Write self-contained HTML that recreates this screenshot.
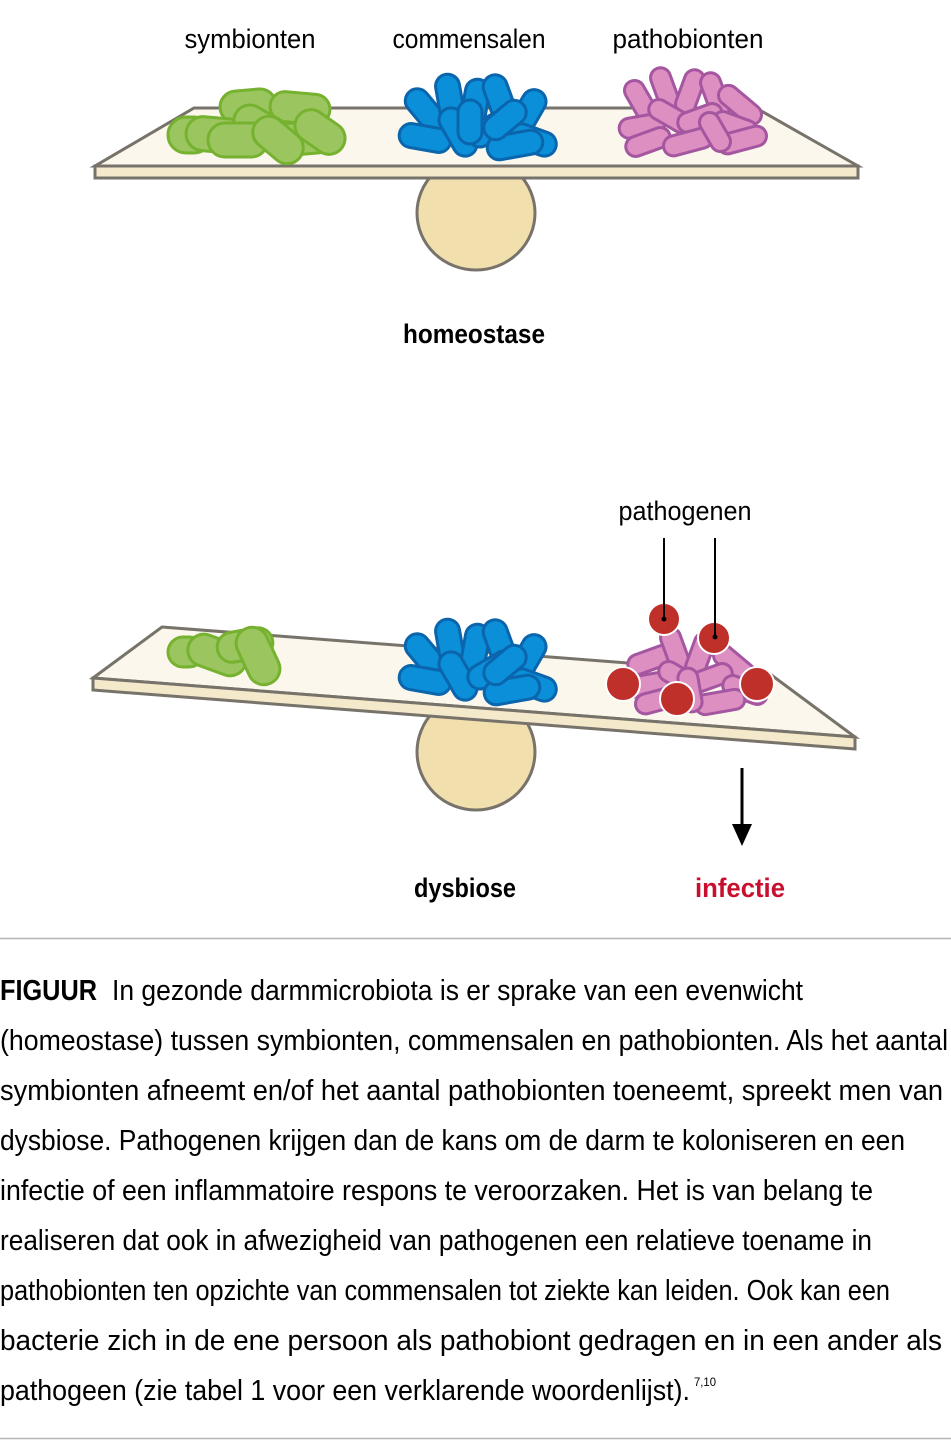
<!DOCTYPE html>
<html><head><meta charset="utf-8"><style>
html,body{margin:0;padding:0;background:#fff;}
svg{display:block;}
text{font-family:"Liberation Sans",sans-serif;}
</style></head><body>
<svg width="951" height="1450" viewBox="0 0 951 1450" xmlns="http://www.w3.org/2000/svg">
<!-- TOP SCALE -->
<ellipse cx="476" cy="213" rx="59" ry="57" fill="#f2dfae" stroke="#77736b" stroke-width="3"/>
<polygon points="194,108 756,108 858,166 95,166" fill="#fbf7ec" stroke="#77736b" stroke-width="3"/>
<rect x="95" y="166" width="763" height="12" fill="#f5e9cc" stroke="#77736b" stroke-width="3"/>

<g fill="#9bc65f" stroke="#76b130" stroke-width="3">
<rect x="-22" y="-18" width="44" height="36" rx="18" transform="translate(190 135)"/>
<rect x="-28" y="-16" width="56" height="32" rx="16" transform="translate(248 106) rotate(-5)"/>
<rect x="-30" y="-15" width="60" height="30" rx="15" transform="translate(300 108) rotate(5)"/>
<rect x="-32" y="-17" width="64" height="34" rx="17" transform="translate(218 135) rotate(5)"/>
<rect x="-30" y="-16" width="60" height="32" rx="16" transform="translate(262 128) rotate(30)"/>
<rect x="-30" y="-16" width="60" height="32" rx="16" transform="translate(305 138) rotate(-5)"/>
<rect x="-27" y="-16" width="54" height="32" rx="16" transform="translate(320 132) rotate(35)"/>
<rect x="-30" y="-17" width="60" height="34" rx="17" transform="translate(238 140)"/>
<rect x="-28" y="-16" width="56" height="32" rx="16" transform="translate(278 140) rotate(40)"/>
</g>
<g fill="#0a8fd8" stroke="#0b65ad" stroke-width="3">
<rect x="-24" y="-12" width="48" height="24" rx="12" transform="translate(425 110) rotate(50)"/>
<rect x="-26" y="-12" width="52" height="24" rx="12" transform="translate(450 100) rotate(80)"/>
<rect x="-26" y="-12" width="52" height="24" rx="12" transform="translate(475 105) rotate(100)"/>
<rect x="-26" y="-12" width="52" height="24" rx="12" transform="translate(500 100) rotate(70)"/>
<rect x="-24" y="-12" width="48" height="24" rx="12" transform="translate(528 112) rotate(120)"/>
<rect x="-26" y="-12" width="52" height="24" rx="12" transform="translate(425 138) rotate(10)"/>
<rect x="-26" y="-12" width="52" height="24" rx="12" transform="translate(458 132) rotate(60)"/>
<rect x="-26" y="-12" width="52" height="24" rx="12" transform="translate(492 128) rotate(-30)"/>
<rect x="-24" y="-12" width="48" height="24" rx="12" transform="translate(533 140) rotate(20)"/>
<rect x="-28" y="-12" width="56" height="24" rx="12" transform="translate(515 145) rotate(-10)"/>
<rect x="-22" y="-12" width="44" height="24" rx="12" transform="translate(470 122) rotate(90)"/>
<rect x="-24" y="-12" width="48" height="24" rx="12" transform="translate(505 120) rotate(140)"/>
</g>
<g fill="#dc8fc0" stroke="#a456a0" stroke-width="3">
<rect x="-21" y="-10" width="42" height="20" rx="10" transform="translate(640 100) rotate(60)"/>
<rect x="-23" y="-10" width="46" height="20" rx="10" transform="translate(665 90) rotate(70)"/>
<rect x="-23" y="-10" width="46" height="20" rx="10" transform="translate(690 92) rotate(110)"/>
<rect x="-23" y="-10" width="46" height="20" rx="10" transform="translate(715 95) rotate(70)"/>
<rect x="-25" y="-10" width="50" height="20" rx="10" transform="translate(740 105) rotate(40)"/>
<rect x="-23" y="-10" width="46" height="20" rx="10" transform="translate(642 126) rotate(-10)"/>
<rect x="-23" y="-10" width="46" height="20" rx="10" transform="translate(670 116) rotate(30)"/>
<rect x="-23" y="-10" width="46" height="20" rx="10" transform="translate(700 118) rotate(-20)"/>
<rect x="-23" y="-10" width="46" height="20" rx="10" transform="translate(735 126) rotate(20)"/>
<rect x="-23" y="-10" width="46" height="20" rx="10" transform="translate(648 142) rotate(-20)"/>
<rect x="-25" y="-10" width="50" height="20" rx="10" transform="translate(688 142) rotate(-15)"/>
<rect x="-25" y="-10" width="50" height="20" rx="10" transform="translate(742 140) rotate(-15)"/>
<rect x="-21" y="-10" width="42" height="20" rx="10" transform="translate(715 132) rotate(60)"/>
</g>

<text x="250" y="48" font-size="27" text-anchor="middle" textLength="131" lengthAdjust="spacingAndGlyphs">symbionten</text>
<text x="469" y="48" font-size="27" text-anchor="middle" textLength="153" lengthAdjust="spacingAndGlyphs">commensalen</text>
<text x="688" y="48" font-size="27" text-anchor="middle" textLength="151" lengthAdjust="spacingAndGlyphs">pathobionten</text>
<text x="474" y="343" font-size="27" font-weight="bold" text-anchor="middle" textLength="142" lengthAdjust="spacingAndGlyphs">homeostase</text>

<!-- BOTTOM SCALE -->
<ellipse cx="476" cy="752" rx="59" ry="58" fill="#f2dfae" stroke="#77736b" stroke-width="3"/>
<polygon points="162,627 770,674 855,737 93,678" fill="#fbf7ec" stroke="#77736b" stroke-width="3"/>
<polygon points="93,678 855,737 855,749 93,690" fill="#f5e9cc" stroke="#77736b" stroke-width="3"/>

<g fill="#9bc65f" stroke="#76b130" stroke-width="3">
<rect x="-18" y="-15" width="36" height="30" rx="15" transform="translate(186 652)"/>
<rect x="-30" y="-16" width="60" height="32" rx="16" transform="translate(217 655) rotate(20)"/>
<rect x="-28" y="-15" width="56" height="30" rx="15" transform="translate(245 645) rotate(-10)"/>
<rect x="-30" y="-16" width="60" height="32" rx="16" transform="translate(258 656) rotate(65)"/>
</g>
<g fill="#0a8fd8" stroke="#0b65ad" stroke-width="3">
<rect x="-24" y="-12" width="48" height="24" rx="12" transform="translate(425 655) rotate(50)"/>
<rect x="-26" y="-12" width="52" height="24" rx="12" transform="translate(450 645) rotate(80)"/>
<rect x="-26" y="-12" width="52" height="24" rx="12" transform="translate(475 650) rotate(100)"/>
<rect x="-26" y="-12" width="52" height="24" rx="12" transform="translate(500 645) rotate(70)"/>
<rect x="-24" y="-12" width="48" height="24" rx="12" transform="translate(528 657) rotate(120)"/>
<rect x="-26" y="-12" width="52" height="24" rx="12" transform="translate(425 680) rotate(10)"/>
<rect x="-26" y="-12" width="52" height="24" rx="12" transform="translate(458 676) rotate(60)"/>
<rect x="-26" y="-12" width="52" height="24" rx="12" transform="translate(492 670) rotate(-30)"/>
<rect x="-24" y="-12" width="48" height="24" rx="12" transform="translate(533 685) rotate(20)"/>
<rect x="-28" y="-12" width="56" height="24" rx="12" transform="translate(512 690) rotate(-10)"/>
<rect x="-24" y="-12" width="48" height="24" rx="12" transform="translate(505 665) rotate(140)"/>
</g>
<g fill="#dc8fc0" stroke="#a456a0" stroke-width="3">
<rect x="-23" y="-10" width="46" height="20" rx="10" transform="translate(650 660) rotate(-20)"/>
<rect x="-23" y="-10" width="46" height="20" rx="10" transform="translate(675 650) rotate(70)"/>
<rect x="-23" y="-10" width="46" height="20" rx="10" transform="translate(700 655) rotate(110)"/>
<rect x="-25" y="-10" width="50" height="20" rx="10" transform="translate(735 665) rotate(40)"/>
<rect x="-23" y="-10" width="46" height="20" rx="10" transform="translate(645 685) rotate(-10)"/>
<rect x="-23" y="-10" width="46" height="20" rx="10" transform="translate(680 678) rotate(30)"/>
<rect x="-23" y="-10" width="46" height="20" rx="10" transform="translate(710 678) rotate(-20)"/>
<rect x="-23" y="-10" width="46" height="20" rx="10" transform="translate(745 690) rotate(20)"/>
<rect x="-25" y="-10" width="50" height="20" rx="10" transform="translate(660 700) rotate(-15)"/>
<rect x="-25" y="-10" width="50" height="20" rx="10" transform="translate(720 702) rotate(-10)"/>
<rect x="-22" y="-10" width="44" height="20" rx="10" transform="translate(690 690) rotate(80)"/>
</g>
<g fill="#c0302a" stroke="#fff" stroke-width="2">
<circle cx="664" cy="619" r="16"/>
<circle cx="714" cy="638" r="16"/>
<circle cx="623" cy="684" r="17"/>
<circle cx="677" cy="699" r="17"/>
<circle cx="757" cy="684" r="17"/>
</g>
<line x1="664" y1="538" x2="664" y2="619" stroke="#000" stroke-width="2"/>
<line x1="715" y1="538" x2="715" y2="637" stroke="#000" stroke-width="2"/>
<circle cx="664" cy="619" r="2.5" fill="#000"/>
<circle cx="715" cy="637" r="2.5" fill="#000"/>
<line x1="742" y1="768" x2="742" y2="830" stroke="#000" stroke-width="3"/>
<polygon points="732,824 752,824 742,846" fill="#000"/>

<text x="685" y="520" font-size="27" text-anchor="middle" textLength="133" lengthAdjust="spacingAndGlyphs">pathogenen</text>
<text x="465" y="897" font-size="27" font-weight="bold" text-anchor="middle" textLength="102" lengthAdjust="spacingAndGlyphs">dysbiose</text>
<text x="740" y="897" font-size="27" font-weight="bold" fill="#c8102e" text-anchor="middle" textLength="90" lengthAdjust="spacingAndGlyphs">infectie</text>

<line x1="0" y1="938.5" x2="951" y2="938.5" stroke="#b5b5b5" stroke-width="1.5"/>
<line x1="0" y1="1438.5" x2="951" y2="1438.5" stroke="#b5b5b5" stroke-width="1.5"/>

<g font-size="29">
<text x="0" y="1000" font-weight="bold" textLength="97" lengthAdjust="spacingAndGlyphs">FIGUUR</text>
<text x="112" y="1000" textLength="691" lengthAdjust="spacingAndGlyphs">In gezonde darmmicrobiota is er sprake van een evenwicht</text>
<text x="0" y="1050" textLength="948" lengthAdjust="spacingAndGlyphs">(homeostase) tussen symbionten, commensalen en pathobionten. Als het aantal</text>
<text x="0" y="1100" textLength="943" lengthAdjust="spacingAndGlyphs">symbionten afneemt en/of het aantal pathobionten toeneemt, spreekt men van</text>
<text x="0" y="1150" textLength="905" lengthAdjust="spacingAndGlyphs">dysbiose. Pathogenen krijgen dan de kans om de darm te koloniseren en een</text>
<text x="0" y="1200" textLength="873" lengthAdjust="spacingAndGlyphs">infectie of een inflammatoire respons te veroorzaken. Het is van belang te</text>
<text x="0" y="1250" textLength="872" lengthAdjust="spacingAndGlyphs">realiseren dat ook in afwezigheid van pathogenen een relatieve toename in</text>
<text x="0" y="1300" textLength="890" lengthAdjust="spacingAndGlyphs">pathobionten ten opzichte van commensalen tot ziekte kan leiden. Ook kan een</text>
<text x="0" y="1350" textLength="942" lengthAdjust="spacingAndGlyphs">bacterie zich in de ene persoon als pathobiont gedragen en in een ander als</text>
<text x="0" y="1400" textLength="690" lengthAdjust="spacingAndGlyphs">pathogeen (zie tabel 1 voor een verklarende woordenlijst).</text>
<text x="694" y="1386" font-size="12" textLength="22" lengthAdjust="spacingAndGlyphs">7,10</text>
</g>
</svg>
</body></html>
